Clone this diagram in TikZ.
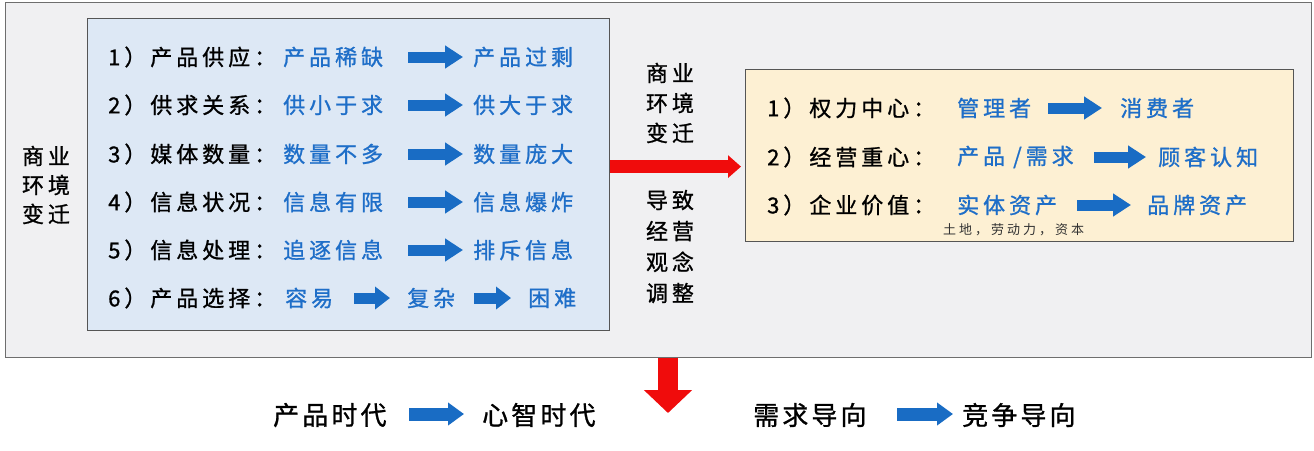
\documentclass[tikz,border=0pt]{standalone}
\usepackage{fontspec}
\usetikzlibrary{arrows.meta}
\newfontfamily\cjk[LetterSpace=18,FakeBold=1]{Noto Sans CJK SC}
\newfontfamily\cjkbig[LetterSpace=12,FakeBold=1]{Noto Sans CJK SC}
\newfontfamily\cjksmall[LetterSpace=23]{Noto Sans CJK SC}
\definecolor{outerfill}{RGB}{240,240,242}
\definecolor{outerline}{RGB}{110,110,110}
\definecolor{bluefill}{RGB}{221,232,245}
\definecolor{beigefill}{RGB}{253,240,211}
\definecolor{boxline}{RGB}{85,85,85}
\definecolor{txtblue}{RGB}{30,110,200}
\definecolor{arrowblue}{RGB}{25,108,196}
\definecolor{redarrow}{RGB}{240,12,12}
\tikzset{
  panel/.style={draw=boxline, line width=1.2pt, anchor=north west, inner sep=0pt},
  lbl/.style={anchor=west, inner sep=0pt, text=black, font=\cjk\fontsize{22}{26}\selectfont},
  blu/.style={lbl, text=txtblue},
  bigtxt/.style={anchor=west, inner sep=0pt, text=black, font=\cjkbig\fontsize{26}{30}\selectfont},
  smalltxt/.style={anchor=west, inner sep=0pt, text=black!80, font=\cjksmall\fontsize{13}{15}\selectfont},
  stack/.style={align=center, inner sep=0pt, text=black},
  barrow/.style={draw=arrowblue, line width=11pt, -{Triangle[length=18pt,width=22pt]}},
  sarrow/.style={draw=arrowblue, line width=11pt, -{Triangle[length=15pt,width=22pt]}},
  bbarrow/.style={draw=arrowblue, line width=13pt, -{Triangle[length=16pt,width=22pt]}},
  rarrow/.style={draw=redarrow, line width=13pt, -{Triangle[length=13pt,width=22pt]}},
  darrow/.style={draw=redarrow, line width=20pt, -{Triangle[length=23pt,width=47pt]}}
}
\begin{document}
\begin{tikzpicture}[x=1pt,y=-1pt]
\useasboundingbox[fill=white] (0,0) rectangle (1314,450);
% panels
\node[panel, draw=outerline, fill=outerfill, minimum width=1306pt, minimum height=355pt] (outer) at (5,1.5) {};
\node[panel, fill=bluefill, minimum width=522pt, minimum height=312pt] (bluebox) at (87,18) {};
\node[panel, fill=beigefill, minimum width=548pt, minimum height=172pt] (beige) at (745,69) {};

% left label
\node[stack, font=\cjk\fontsize{22}{29}\selectfont] (leftlbl) at (46,185) {商业\\环境\\变迁};

% blue box rows
\node[lbl] (l1) at (108,57) {1）产品供应：};
\node[blu] (a1) at (283,57) {产品稀缺};
\node[blu] (b1) at (473,57) {产品过剩};
\node[lbl] (l2) at (108,105) {2）供求关系：};
\node[blu] (a2) at (283,105) {供小于求};
\node[blu] (b2) at (473,105) {供大于求};
\node[lbl] (l3) at (108,154) {3）媒体数量：};
\node[blu] (a3) at (283,154) {数量不多};
\node[blu] (b3) at (473,154) {数量庞大};
\node[lbl] (l4) at (108,202) {4）信息状况：};
\node[blu] (a4) at (283,202) {信息有限};
\node[blu] (b4) at (473,202) {信息爆炸};
\node[lbl] (l5) at (108,250) {5）信息处理：};
\node[blu] (a5) at (283,250) {追逐信息};
\node[blu] (b5) at (473,250) {排斥信息};
\node[lbl] (l6) at (108,298) {6）产品选择：};
\node[blu] (a6) at (285,298) {容易};
\node[blu] (b6) at (407,298) {复杂};
\node[blu] (c6) at (528,298) {困难};

\foreach \i/\y in {1/57,2/105,3/154,4/202,5/250}{
  \coordinate (s\i) at (408,\y);
  \coordinate (e\i) at (463,\y);
  \draw[barrow] (s\i) -- (e\i);
}
\coordinate (s6a) at (354,298); \coordinate (e6a) at (390,298);
\coordinate (s6b) at (474,298); \coordinate (e6b) at (511,298);
\draw[sarrow] (s6a) -- (e6a);
\draw[sarrow] (s6b) -- (e6b);

% middle texts
\node[stack, font=\cjk\fontsize{22}{30}\selectfont] (midtop) at (670,103) {商业\\环境\\变迁};
\node[stack, font=\cjk\fontsize{22}{31}\selectfont] (midbot) at (670,246.5) {导致\\经营\\观念\\调整};

% red horizontal arrow
\draw[rarrow] ([yshift=8pt]bluebox.east) -- ([yshift=-11pt,xshift=-4pt]beige.west);

% beige rows
\node[lbl] (r1) at (767,108) {1）权力中心：};
\node[blu] (p1) at (957,108) {管理者};
\node[blu] (q1) at (1120,108) {消费者};
\node[lbl] (r2) at (767,157) {2）经营重心：};
\node[blu] (p2) at (957,157) {产品\hspace{8pt}/需求};
\node[blu] (q2) at (1158,157) {顾客认知};
\node[lbl] (r3) at (767,205) {3）企业价值：};
\node[blu] (p3) at (957,205) {实体资产};
\node[blu] (q3) at (1147,205) {品牌资产};
\node[smalltxt] (note) at (943,230) {土地，劳动力，资本};

\coordinate (t1s) at (1048,108); \coordinate (t1e) at (1102,108);
\coordinate (t2s) at (1094,157); \coordinate (t2e) at (1146,157);
\coordinate (t3s) at (1077,205); \coordinate (t3e) at (1131,205);
\draw[barrow] (t1s) -- (t1e);
\draw[barrow] (t2s) -- (t2e);
\draw[barrow] (t3s) -- (t3e);

% red down arrow
\coordinate (downtip) at (668,413);
\draw[darrow] (downtip |- outer.south) -- (downtip);

% bottom row
\node[bigtxt] (m1) at (273,415) {产品时代};
\node[bigtxt] (m2) at (482,415) {心智时代};
\node[bigtxt] (n1) at (753,415) {需求导向};
\node[bigtxt] (n2) at (962,415) {竞争导向};
\coordinate (u1s) at (409,414); \coordinate (u1e) at (464,414);
\coordinate (u2s) at (897,414); \coordinate (u2e) at (953,414);
\draw[bbarrow] (u1s) -- (u1e);
\draw[bbarrow] (u2s) -- (u2e);
\end{tikzpicture}
\end{document}
